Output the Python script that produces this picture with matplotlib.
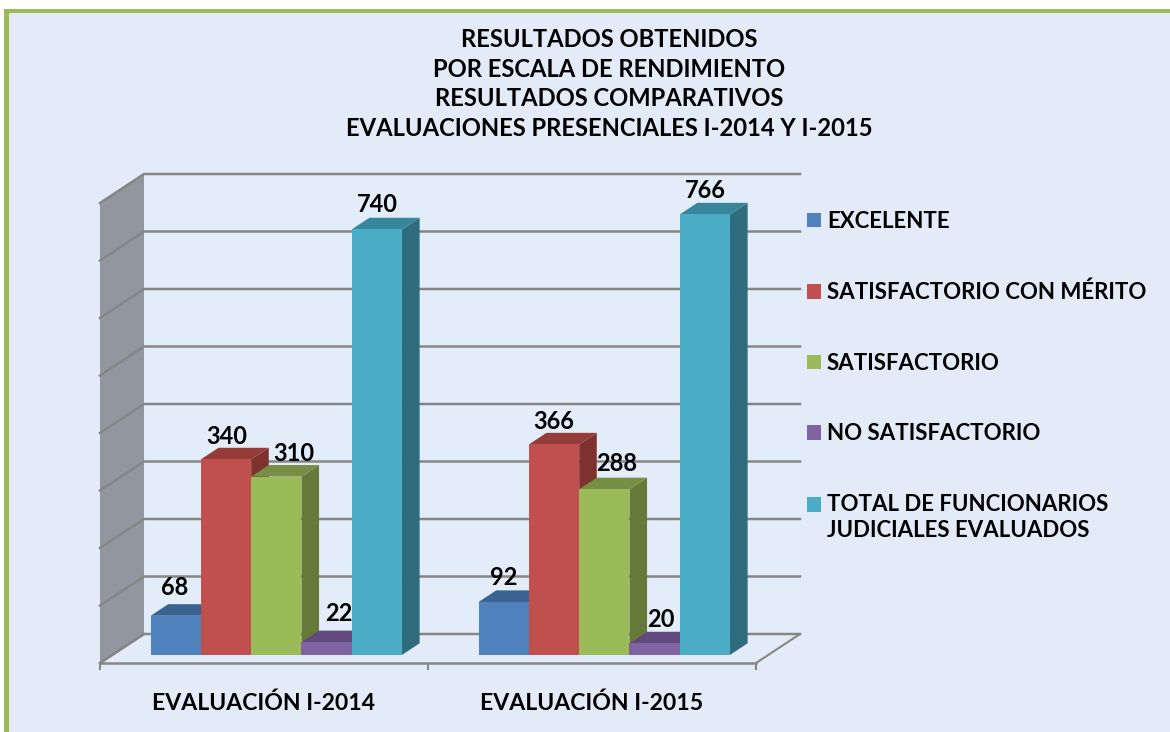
import matplotlib
matplotlib.use("Agg")
import matplotlib.pyplot as plt
from matplotlib.patches import Patch, Polygon, Rectangle

W, H = 1170, 732
groups = ["EVALUACIÓN I-2014", "EVALUACIÓN I-2015"]
series = ["EXCELENTE", "SATISFACTORIO CON MÉRITO", "SATISFACTORIO", "NO SATISFACTORIO",
          "TOTAL DE FUNCIONARIOS\nJUDICIALES EVALUADOS"]
values = [[68, 92], [340, 366], [310, 288], [22, 20], [740, 766]]
colors = ["#4F81BD", "#C0504D", "#9BBB59", "#8064A2", "#4BACC6"]
tops = ["#3B6391", "#943C3A", "#778F44", "#62497E", "#38869B"]
sides = ["#335479", "#7D3230", "#657A39", "#523E69", "#2F6C7E"]
title = ("RESULTADOS OBTENIDOS\nPOR ESCALA DE RENDIMIENTO\nRESULTADOS COMPARATIVOS\n"
         "EVALUACIONES PRESENCIALES I-2014 Y I-2015")
yticks = list(range(0, 900, 100))
label_nudge = [[(-19, 5), (-18, 1)], [(-17, 0), (-18, 0)], [(0, 0), (-5, 3)], [(-5, 6), (-11, 1)], [(-17, 2), (-17, 1)]]

BG, WALL, GRID, SIDEWALL, FRAME = "#E4EBF8", "#E3EDF9", "#868686", "#92969F", "#9BBB59"
plt.rcParams["font.family"] = ["Lato", "DejaVu Sans"]
plt.rcParams["font.weight"] = "bold"

fig = plt.figure(figsize=(W / 100, H / 100), dpi=100, facecolor="white")
fig.add_artist(Rectangle((4 / W, 0), 1 - 4 / W, 1 - 9 / H, transform=fig.transFigure, fc=FRAME, ec="none", zorder=-2))
fig.add_artist(Rectangle((9 / W, 0), 1 - 9 / W, 1 - 13 / H, transform=fig.transFigure, fc=BG, ec="none", zorder=-1))

ax = fig.add_axes([100 / W, 1 - 663 / H, 656 / W, 460 / H])
ax.patch.set_alpha(0)
ax.set_xlim(0, 2)
ax.set_ylim(0, 800)
DX, DY = 44 / 328, 29 / 0.575


def P(x, y, d):
    return (x + d * DX, y + d * DY)


def poly(pts, fc, ec="none", z=1):
    ax.add_patch(Polygon(pts, closed=True, fc=fc, ec=ec, lw=0, zorder=z, clip_on=False))


poly([P(0, 0, 1), P(2, 0, 1), P(2, 800, 1), P(0, 800, 1)], WALL, z=1)
poly([P(0, 0, 0), P(0, 0, 1), P(0, 800, 1), P(0, 800, 0)], SIDEWALL, z=1)
for v in yticks:
    x0, y0 = P(0, v, 0)
    x1, y1 = P(0, v, 1)
    x2, y2 = P(2, v, 1)
    ax.plot([x0, x1, x2], [y0, y1, y2], color=GRID, lw=1.8, zorder=2, clip_on=False,
            solid_joinstyle="miter")
x0, y0 = P(2, 0, 0)
x1, y1 = P(2, 0, 1)
ax.plot([x0, x1], [y0, y1], color=GRID, lw=1.5, zorder=2, clip_on=False)
ax.plot([0, 0 + DX], [0, DY], color=GRID, lw=1.5, zorder=2, clip_on=False)

n = len(series)
bw = 0.1533
start = (1 - n * bw) / 2
D0, D1 = 0.28, 0.68
z = 3
for g in range(len(groups)):
    for s in range(n):
        v = values[s][g]
        xl = g + start + s * bw
        xr = xl + bw
        poly([P(xr, 0, D0), P(xr, 0, D1), P(xr, v, D1), P(xr, v, D0)], sides[s], z=z)
        poly([P(xl, v, D0), P(xr, v, D0), P(xr, v, D1), P(xl, v, D1)], tops[s], z=z)
        bx, by = P(xl, 0, D0)
        ax.bar(bx, v, width=bw, bottom=by, align="edge", color=colors[s], zorder=z + 0.5, clip_on=False)
        z += 1
for g in range(len(groups)):
    for s in range(n):
        v = values[s][g]
        xc = g + start + (s + 0.5) * bw
        px, py = P(xc, v, D1)
        nx, ny = label_nudge[s][g]
        ax.annotate(str(v), (px, py), xytext=(nx * 0.72, ny * 0.72), textcoords="offset points",
                    ha="center", va="bottom", fontsize=17, color="black", zorder=100, annotation_clip=False)

for sp in ["top", "left", "right"]:
    ax.spines[sp].set_visible(False)
ax.spines["bottom"].set_color(GRID)
ax.spines["bottom"].set_linewidth(1.8)
ax.spines["bottom"].set_zorder(2)
ax.set_yticks([])
ax.set_xticks([0, 1, 2], labels=["", "", ""])
ax.set_xticks([0.5, 1.5], labels=groups, minor=True)
ax.tick_params(axis="x", which="major", length=5, width=1.5, color=GRID)
ax.tick_params(axis="x", which="minor", length=0, pad=21, labelsize=16.6, labelcolor="black")

fig.text(609 / W, 1 - 84 / H, title, ha="center", va="center", fontsize=17.1, color="black",
         linespacing=1.34, multialignment="center")

handles = [Patch(fc=c, ec="none") for c in colors]
leg = fig.legend(handles, series, loc="upper left", bbox_to_anchor=(807 / W, 1 - 211 / H), frameon=False,
                 fontsize=16, handlelength=0.63, handleheight=0.63, handletextpad=0.27,
                 labelspacing=2.23, borderpad=0, borderaxespad=0, labelcolor="black")
for t in leg.get_texts():
    t.set_linespacing(1.33)
last = leg.legend_handles[-1]
last.set_y(last.get_y() + 10)

fig.savefig("out.png", dpi=100, facecolor="white")
